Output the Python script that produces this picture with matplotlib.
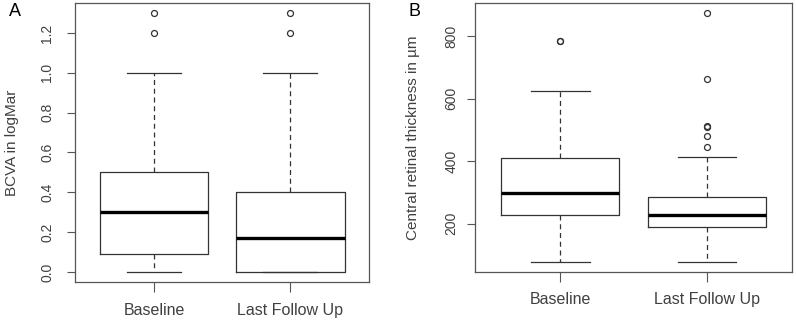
import matplotlib
matplotlib.use("Agg")
import matplotlib.pyplot as plt

plt.rcParams['font.family'] = ['Liberation Sans', 'DejaVu Sans']

categories = ["Baseline", "Last Follow Up"]

# Panel A: BCVA in logMar
bcva_whislo = [0.0, 0.0]
bcva_q1 = [0.09, 0.0]
bcva_med = [0.30, 0.17]
bcva_q3 = [0.50, 0.40]
bcva_whishi = [1.0, 1.0]
bcva_fliers = [[1.2, 1.3], [1.2, 1.3]]
bcva_yticks = [0.0, 0.2, 0.4, 0.6, 0.8, 1.0, 1.2]

# Panel B: Central retinal thickness in µm
crt_whislo = [76, 78]
crt_q1 = [229, 189]
crt_med = [299, 229]
crt_q3 = [410, 285]
crt_whishi = [626, 414]
crt_fliers = [[784, 784], [446, 480, 510, 512, 665, 875]]
crt_yticks = [200, 400, 600, 800]

LINE = "#333333"
FRAME = "#555555"
TEXT = "#404040"


def make_stats(lo, q1, med, q3, hi, fl):
    return [dict(whislo=lo[i], q1=q1[i], med=med[i], q3=q3[i], whishi=hi[i],
                 fliers=fl[i], label=categories[i]) for i in range(len(categories))]


def draw(ax, stats, yticks, ylabel, labelx, ticklabel_pad, xlab_pad):
    ax.bxp(stats, positions=[1, 2], widths=0.8, patch_artist=False,
           boxprops=dict(color=LINE, linewidth=0.9),
           medianprops=dict(color="black", linewidth=2.4, solid_capstyle="butt"),
           whiskerprops=dict(color=LINE, linewidth=0.9, linestyle=(0, (4, 3))),
           capprops=dict(color=LINE, linewidth=0.9),
           capwidths=0.4,
           flierprops=dict(marker="o", markersize=4.3, markerfacecolor="none",
                           markeredgecolor=LINE, markeredgewidth=0.9, linestyle="none"))
    allv = []
    for s in stats:
        allv += [s["whislo"], s["whishi"]] + list(s["fliers"])
    lo, hi = min(allv), max(allv)
    ext = 0.04 * (hi - lo)
    ax.set_ylim(lo - ext, hi + ext)
    ax.set_xlim(0.5 - 0.08, 2.5 + 0.08)
    ax.set_yticks(yticks)
    ax.set_yticklabels([("%.1f" % t) if isinstance(t, float) else str(t) for t in yticks],
                       rotation=90, va="center", fontsize=10, color=TEXT)
    ax.set_xticks([1, 2])
    ax.set_xticklabels(categories, fontsize=11.5, color=TEXT)
    ax.tick_params(axis="y", length=6, width=0.8, color=FRAME, pad=ticklabel_pad)
    ax.tick_params(axis="x", length=7, width=0.8, color=FRAME, pad=xlab_pad)
    for sp in ax.spines.values():
        sp.set_color(FRAME)
        sp.set_linewidth(0.9)
    ax.set_ylabel(ylabel, fontsize=11, color=TEXT)
    ax.yaxis.set_label_coords(labelx, 0.5)


fig = plt.figure(figsize=(7.96, 3.2), dpi=100)
axA = fig.add_axes([0.0942, 0.1178, 0.3697, 0.8738])
axB = fig.add_axes([0.5967, 0.1491, 0.3986, 0.8415])

draw(axA, make_stats(bcva_whislo, bcva_q1, bcva_med, bcva_q3, bcva_whishi, bcva_fliers),
     bcva_yticks, "BCVA in logMar", -0.189, 9, 8)
draw(axB, make_stats(crt_whislo, crt_q1, crt_med, crt_q3, crt_whishi, crt_fliers),
     crt_yticks, "Central retinal thickness in µm", -0.172, 6, 7)

fig.text(15 / 796, 1 - 12 / 320, "A", fontsize=13, color="black", ha="center", va="center")
fig.text(414 / 796, 1 - 11 / 320, "B", fontsize=13, color="black", ha="center", va="center")

fig.savefig("out.png", dpi=100)
